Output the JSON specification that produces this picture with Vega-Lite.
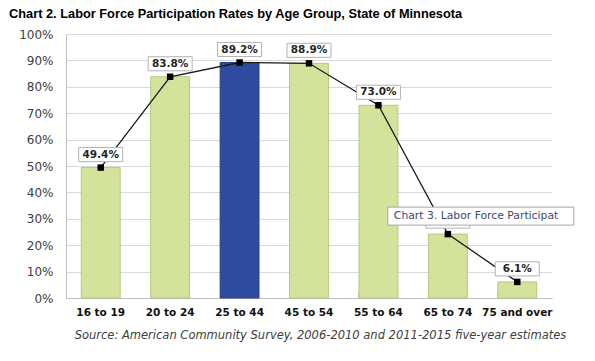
{
  "$schema": "https://vega.github.io/schema/vega-lite/v6.json",
  "width": 486,
  "height": 264,
  "autosize": {"type": "none"},
  "padding": {"left": 66, "top": 34, "right": 43, "bottom": 63},
  "background": "white",
  "title": {
    "text": "Chart 2. Labor Force Participation Rates by Age Group, State of Minnesota",
    "anchor": "start",
    "frame": "group",
    "font": "Liberation Sans",
    "fontSize": 12.8,
    "fontWeight": "bold",
    "color": "#000000",
    "dx": -57,
    "offset": 7
  },
  "config": {
    "view": {"stroke": null},
    "font": "DejaVu Sans"
  },
  "data": {
    "values": [
      {"age": "16 to 19", "rate": 0.494},
      {"age": "20 to 24", "rate": 0.838},
      {"age": "25 to 44", "rate": 0.892},
      {"age": "45 to 54", "rate": 0.889},
      {"age": "55 to 64", "rate": 0.730},
      {"age": "65 to 74", "rate": 0.242},
      {"age": "75 and over", "rate": 0.061}
    ]
  },
  "encoding": {
    "y": {
      "field": "rate",
      "type": "quantitative",
      "scale": {"domain": [0, 1], "nice": false},
      "axis": {
        "values": [0, 0.1, 0.2, 0.3, 0.4, 0.5, 0.6, 0.7, 0.8, 0.9, 1.0],
        "format": ".0%",
        "title": null,
        "ticks": false,
        "domain": true,
        "domainColor": "#bfbfbf",
        "grid": true,
        "gridColor": "#d9d9d9",
        "labelFont": "DejaVu Sans",
        "labelFontSize": 12,
        "labelColor": "#404040",
        "labelPadding": 13
      }
    }
  },
  "layer": [
    {
      "mark": {"type": "bar", "strokeWidth": 1},
      "encoding": {
        "x": {
          "field": "age",
          "type": "nominal",
          "sort": null,
          "scale": {"paddingInner": 0.44, "paddingOuter": 0.22},
          "axis": {
            "orient": "bottom",
            "labelAngle": 0,
            "labelFont": "DejaVu Sans",
            "labelFontWeight": "bold",
            "labelFontSize": 10.5,
            "labelColor": "#111111",
            "labelPadding": 9,
            "ticks": false,
            "grid": false,
            "domain": true,
            "domainColor": "#bfbfbf",
            "title": "Source: American Community Survey, 2006-2010 and 2011-2015 five-year estimates",
            "titleFont": "DejaVu Sans",
            "titleFontStyle": "italic",
            "titleFontWeight": "normal",
            "titleFontSize": 11.5,
            "titleColor": "#404040",
            "titlePadding": 12,
            "titleX": 254
          }
        },
        "color": {
          "condition": {"test": "datum.age === '25 to 44'", "value": "#2f4b9f"},
          "value": "#d4e39c"
        },
        "stroke": {
          "condition": {"test": "datum.age === '25 to 44'", "value": "#2a4490"},
          "value": "#b7c97c"
        }
      }
    },
    {
      "mark": {"type": "line", "color": "#1a1a1a", "strokeWidth": 1.3},
      "encoding": {
        "x": {
          "field": "age",
          "type": "nominal",
          "sort": null,
          "axis": {
            "orient": "bottom",
            "bandPosition": 0,
            "labels": false,
            "ticks": true,
            "tickSize": -6,
            "tickColor": "#bfbfbf",
            "domain": false,
            "grid": false,
            "title": null
          }
        }
      }
    },
    {
      "mark": {"type": "point", "shape": "square", "filled": true, "size": 42, "color": "#000000", "opacity": 1},
      "encoding": {
        "x": {"field": "age", "type": "nominal", "sort": null, "axis": null}
      }
    },
    {
      "mark": {
        "type": "point",
        "shape": "M-1,-0.32H1V0.32H-1Z",
        "size": 1936,
        "filled": true,
        "fill": "#ffffff",
        "stroke": "#b3b3b3",
        "strokeWidth": 1,
        "opacity": 1,
        "yOffset": -13
      },
      "encoding": {
        "x": {"field": "age", "type": "nominal", "sort": null, "axis": null}
      }
    },
    {
      "mark": {
        "type": "text",
        "dy": -13,
        "baseline": "middle",
        "align": "center",
        "font": "DejaVu Sans",
        "fontWeight": "bold",
        "fontSize": 10.5,
        "color": "#262626"
      },
      "encoding": {
        "x": {"field": "age", "type": "nominal", "sort": null, "axis": null},
        "text": {"field": "rate", "type": "quantitative", "format": ".1%"}
      }
    },
    {
      "transform": [{"filter": "datum.age === '65 to 74'"}],
      "mark": {
        "type": "point",
        "shape": "M-1,-0.0968H1V0.0968H-1Z",
        "size": 34596,
        "filled": true,
        "fill": "#ffffff",
        "stroke": "#a6a6a6",
        "strokeWidth": 1,
        "opacity": 1,
        "xOffset": 33,
        "yOffset": -18
      },
      "encoding": {
        "x": {"field": "age", "type": "nominal", "sort": null, "axis": null}
      }
    },
    {
      "transform": [{"filter": "datum.age === '65 to 74'"}],
      "mark": {
        "type": "text",
        "align": "left",
        "baseline": "middle",
        "dx": -54,
        "dy": -18,
        "font": "DejaVu Sans",
        "fontSize": 10.8,
        "color": "#3b4a6b"
      },
      "encoding": {
        "x": {"field": "age", "type": "nominal", "sort": null, "axis": null},
        "text": {"value": "Chart 3. Labor Force Participat"}
      }
    }
  ],
  "resolve": {"axis": {"x": "independent"}}
}
